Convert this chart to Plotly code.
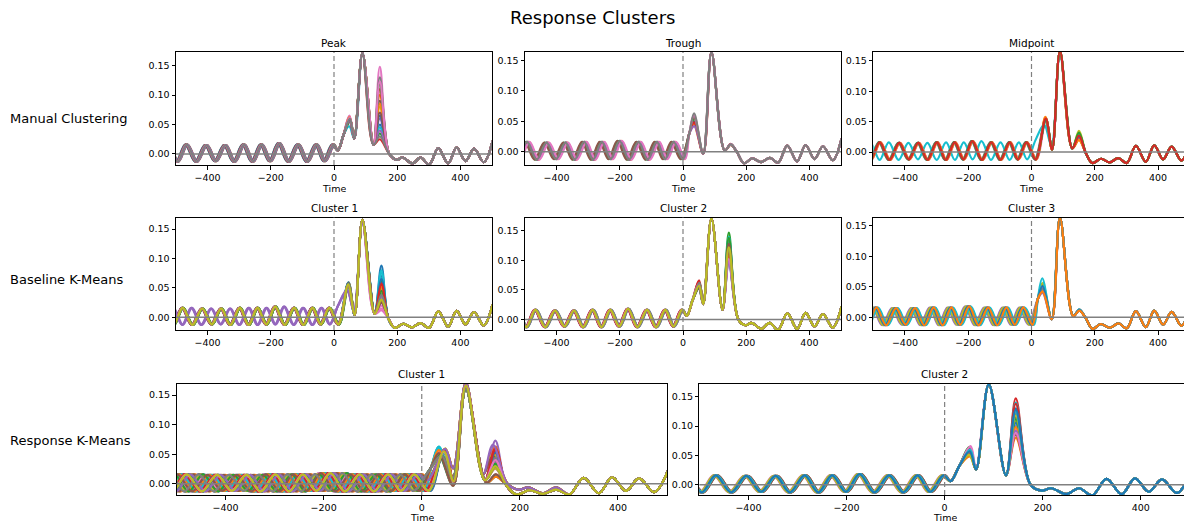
import plotly.graph_objects as go

# ---------------------------------------------------------------- data
# Pre-stimulus oscillation: extrema times (ms) and amplitudes for the
# reference phase (stimulus arriving on a peak).
OSC_PEAK_T = [-525, -467, -405, -345, -286, -230, -174, -114, -56, -3]
OSC_PEAK_V = [0.015, 0.016, 0.015, 0.015, 0.016, 0.016, 0.018, 0.016, 0.016, 0.016]
OSC_TROUGH_T = [-554, -496, -436, -375, -316, -258, -202, -144, -85, -30, 26]
OSC_TROUGH_V = [-0.013, -0.013, -0.013, -0.012, -0.013, -0.013, -0.012, -0.013, -0.013, -0.012, -0.012]

# Evoked response key points for each stimulus-phase type
# P: stimulus on peak, T: on trough, M: on falling midpoint, A: rising midpoint
P_RESP_T = [12, 30, 64, 90, 125, 175, 198, 217, 248, 274]
P_RESP_V = [0.006, 0.032, 0.026, 0.171, 0.016, 0.0, -0.010, -0.006, -0.016, -0.006]
T_RESP_T = [20, 64, 90, 132, 170, 193, 219, 247, 275]
T_RESP_V = [0.030, -0.003, 0.163, 0.002, 0.0, -0.019, -0.011, -0.017, -0.010]
M_RESP_T = [65, 90, 129, 172, 192, 220, 247, 274]
M_RESP_V = [0.004, 0.166, 0.006, -0.002, -0.018, -0.011, -0.017, -0.010]
A_RESP_T = [13, 63, 90, 129, 172, 192, 220, 247, 274]
A_RESP_V = [0.020, 0.010, 0.160, 0.006, -0.002, -0.018, -0.011, -0.017, -0.010]
P3_TIME = {"P": 145, "T": 151, "M": 150, "A": 150}
PRE_CUTOFF = {"P": 6, "T": 14, "M": 25, "A": 7}

# Late oscillation shared by all trials
TAIL_T = [301, 330, 361, 388, 416, 443, 474, 502]
TAIL_V = [-0.018, 0.010, -0.016, 0.011, -0.012, 0.009, -0.014, 0.022]

# Manual clustering: Peak
peak_kind = ["P"] * 18
peak_shift = [0, 3, -3, 1, -2, 4, 0, -4, 2, 1, -3, 0, 2, -1, 3, -2, 0, 1]
peak_p1_t = [50, 49, 51, 50, 48, 50, 49, 51, 50, 48, 50, 49, 51, 50, 48, 49, 50, 50]
peak_p1_v = [0.058, 0.062, 0.055, 0.060, 0.064, 0.057, 0.065, 0.059, 0.061, 0.047,
             0.060, 0.063, 0.058, 0.061, 0.057, 0.059, 0.062, 0.060]
peak_p3_v = [0.050, 0.100, 0.035, 0.110, 0.060, 0.090, 0.148, 0.130, 0.080, 0.045,
             0.065, 0.085, 0.118, 0.025, 0.040, 0.070, 0.123, 0.030]

# Manual clustering: Trough
trough_kind = ["T"] * 8
trough_shift = [-27, -21, -32, -25, -24, -34, -19, -27]
trough_p1_t = [35, 34, 36, 35, 36, 34, 35, 35]
trough_p1_v = [0.050, 0.045, 0.055, 0.048, 0.042, 0.058, 0.060, 0.063]
trough_p3_v = [0.012, 0.011, 0.012, 0.013, 0.012, 0.011, 0.012, 0.012]

# Manual clustering: Midpoint
mid_kind = ["M", "M", "M", "M", "M", "M", "M", "M", "M", "A", "M", "M", "M", "M"]
mid_shift = [-13, -11, -15, -12, -14, -13, -10, -16, -12, 16, -13, -11, -14, -13]
mid_p1_t = [45, 44, 46, 45, 44, 45, 46, 44, 45, 40, 45, 44, 46, 45]
mid_p1_v = [0.054, 0.058, 0.052, 0.055, 0.053, 0.056, 0.054, 0.052, 0.055, 0.045,
            0.053, 0.057, 0.054, 0.055]
mid_p3_v = [0.025, 0.020, 0.030, 0.028, 0.024, 0.022, 0.030, 0.022, 0.035, 0.030,
            0.026, 0.020, 0.032, 0.027]

# Baseline K-Means: Cluster 1
b1_kind = ["M", "M", "M", "M", "A", "M", "M", "M", "M", "M",
           "M", "M", "M", "M", "A", "M", "M", "M", "M", "M",
           "M", "M", "M", "M", "A", "M", "M", "M", "M"]
b1_shift = [-12, -13, -10, -11, 16, -14, -14, -12, -12, -11,
            -13, -13, -10, -12, 18, -15, -12, -12, -11, -13,
            -14, -11, -10, -14, 15, -12, -13, -11, -12]
b1_p1_t = [46, 45, 47, 45, 42, 46, 46, 45, 45, 46,
           45, 45, 44, 46, 42, 46, 45, 45, 46, 44,
           45, 45, 46, 46, 41, 45, 45, 46, 45]
b1_p1_v = [0.058, 0.055, 0.057, 0.056, 0.045, 0.058, 0.054, 0.056, 0.055, 0.060,
           0.057, 0.056, 0.054, 0.059, 0.046, 0.053, 0.057, 0.055, 0.058, 0.056,
           0.058, 0.055, 0.057, 0.054, 0.047, 0.056, 0.055, 0.057, 0.056]
b1_p3_v = [0.088, 0.045, 0.062, 0.055, 0.030, 0.040, 0.020, 0.035, 0.028, 0.080,
           0.070, 0.050, 0.060, 0.058, 0.025, 0.030, 0.015, 0.040, 0.048, 0.075,
           0.065, 0.052, 0.045, 0.057, 0.035, 0.025, 0.012, 0.038, 0.030]

# Baseline K-Means: Cluster 2
b2_kind = ["P"] * 19
b2_shift = [0, 2, -2, 3, -3, 0, 1, -1, 0, 3, -2, 1, 0, -3, 2, 0, -1, 2, 0]
b2_p1_t = [51, 50, 52, 51, 50, 52, 51, 50, 52, 51, 50, 52, 51, 50, 52, 51, 50, 52, 51]
b2_p1_v = [0.058, 0.055, 0.062, 0.066, 0.052, 0.060, 0.057, 0.054, 0.059, 0.063,
           0.056, 0.061, 0.053, 0.065, 0.058, 0.055, 0.060, 0.062, 0.057]
b2_p3_v = [0.125, 0.110, 0.147, 0.135, 0.095, 0.115, 0.105, 0.130, 0.118, 0.140,
           0.100, 0.108, 0.138, 0.112, 0.097, 0.128, 0.102, 0.120, 0.122]

# Baseline K-Means: Cluster 3
b3_kind = ["T"] * 12
b3_shift = [-27, -22, -31, -25, -36, -20, -28, -24, -33, -18, -27, -23]
b3_p1_t = [35, 35, 34, 36, 35, 34, 35, 36, 35, 34, 35, 35]
b3_p1_v = [0.050, 0.044, 0.052, 0.050, 0.040, 0.055, 0.049, 0.047, 0.056, 0.064, 0.051, 0.042]
b3_p3_v = [0.012, 0.011, 0.013, 0.012, 0.012, 0.011, 0.013, 0.012, 0.012, 0.013, 0.012, 0.011]

# Response K-Means: Cluster 1
r1_kind = ["T", "M", "A", "M", "T", "P", "M", "A", "T", "T",
           "M", "A", "M", "P", "T", "M", "A", "T", "M", "T",
           "A", "P", "M", "T", "M", "A", "T", "M", "P", "T",
           "A", "M", "T", "M", "A", "P", "T", "M", "A", "T",
           "M", "T", "A", "M", "P", "T", "M", "A", "M"]
r1_shift = [-27, -10, 14, -16, -33, 3, -13, 20, -22, -30,
            -8, 17, -18, -4, -25, -12, 11, -35, -15, -20,
            22, 5, -11, -29, -17, 15, -24, -9, -2, -31,
            13, -14, -26, -19, 19, 1, -36, -12, 16, -23,
            -10, -28, 21, -16, -5, -32, -13, 12, -12]
r1_p1_t = [35, 45, 40, 46, 34, 48, 45, 41, 35, 35,
           44, 40, 45, 48, 36, 45, 39, 35, 46, 34,
           40, 49, 45, 35, 46, 41, 35, 44, 48, 35,
           40, 45, 34, 46, 40, 48, 36, 45, 41, 35,
           45, 35, 40, 46, 48, 35, 45, 40, 45]
r1_p1_v = [0.055, 0.056, 0.048, 0.057, 0.050, 0.058, 0.054, 0.046, 0.058, 0.063,
           0.055, 0.047, 0.056, 0.059, 0.052, 0.054, 0.048, 0.060, 0.055, 0.062,
           0.047, 0.058, 0.053, 0.056, 0.057, 0.049, 0.054, 0.055, 0.060, 0.063,
           0.046, 0.056, 0.051, 0.058, 0.048, 0.057, 0.053, 0.054, 0.047, 0.061,
           0.055, 0.057, 0.049, 0.056, 0.059, 0.052, 0.054, 0.048, 0.055]
r1_p3_v = [0.015, 0.060, 0.035, 0.063, 0.014, 0.045, 0.040, 0.028, 0.016, 0.013,
           0.055, 0.030, 0.042, 0.058, 0.015, 0.035, 0.025, 0.012, 0.048, 0.014,
           0.032, 0.052, 0.038, 0.013, 0.073, 0.027, 0.016, 0.046, 0.050, 0.015,
           0.030, 0.062, 0.013, 0.060, 0.036, 0.047, 0.014, 0.044, 0.026, 0.015,
           0.053, 0.012, 0.034, 0.058, 0.066, 0.016, 0.040, 0.029, 0.030]

# Response K-Means: Cluster 2
r2_kind = ["P"] * 21
r2_shift = [0, 3, -1, 1, -3, 4, -4, 0, 2, -1, 1, 0, -2, 3, -1, 4, 0, 1, -3, 2, 0]
r2_p1_t = [51, 52, 50, 51, 52, 50, 53, 51, 52, 50, 51, 52, 50, 53, 51, 50, 52, 51, 50, 52, 51]
r2_p1_v = [0.058, 0.050, 0.063, 0.055, 0.052, 0.060, 0.066, 0.056, 0.054, 0.059, 0.057,
           0.048, 0.064, 0.053, 0.058, 0.061, 0.065, 0.055, 0.051, 0.060, 0.057]
r2_p3_v = [0.130, 0.080, 0.120, 0.147, 0.100, 0.115, 0.095, 0.108, 0.110, 0.140, 0.105,
           0.098, 0.112, 0.138, 0.092, 0.085, 0.088, 0.122, 0.118, 0.125, 0.128]

# Axis ticks
X_TICKS = [-400, -200, 0, 200, 400]
X_TICK_TEXT = ["\u2212400", "\u2212200", "0", "200", "400"]
Y_TICKS = [0.0, 0.05, 0.10, 0.15]
Y_TICK_TEXT = ["0.00", "0.05", "0.10", "0.15"]

TAB10 = ["#1f77b4", "#ff7f0e", "#2ca02c", "#d62728", "#9467bd",
         "#8c564b", "#e377c2", "#7f7f7f", "#bcbd22", "#17becf"]

RESP = {"P": (P_RESP_T, P_RESP_V), "T": (T_RESP_T, T_RESP_V),
        "M": (M_RESP_T, M_RESP_V), "A": (A_RESP_T, A_RESP_V)}


def trial_points(kind, shift, p1_t, p1_v, p3_v):
    cut = PRE_CUTOFF[kind]
    pts = [(t + shift, v) for t, v in zip(OSC_PEAK_T, OSC_PEAK_V) if t + shift < cut]
    pts += [(t + shift, v) for t, v in zip(OSC_TROUGH_T, OSC_TROUGH_V) if t + shift < cut]
    rt, rv = RESP[kind]
    pts += list(zip(rt, rv))
    pts += [(p1_t, p1_v), (P3_TIME[kind], p3_v)]
    pts += list(zip(TAIL_T, TAIL_V))
    pts.sort()
    return [p[0] for p in pts], [p[1] for p in pts]


# ---------------------------------------------------------------- layout
W, H = 1184, 522
FONT = "DejaVu Sans"

panels = [
    dict(title="Peak", x0=176, x1=492, top=52, bot=165, xr=[-500, 500], yr=[-0.0187, 0.173],
         xlabel=22.5, clip=False,
         data=(peak_kind, peak_shift, peak_p1_t, peak_p1_v, peak_p3_v)),
    dict(title="Trough", x0=525, x1=841, top=52, bot=165, xr=[-500, 500], yr=[-0.0218, 0.1636],
         xlabel=22.5, clip=False,
         data=(trough_kind, trough_shift, trough_p1_t, trough_p1_v, trough_p3_v)),
    dict(title="Midpoint", x0=873.3, x1=1184, top=52, bot=165, xr=[-500, 482], yr=[-0.0213, 0.1645],
         xlabel=22.5, clip=True,
         data=(mid_kind, mid_shift, mid_p1_t, mid_p1_v, mid_p3_v)),
    dict(title="Cluster 1", x0=176, x1=492, top=217.5, bot=330, xr=[-500, 500], yr=[-0.0216, 0.1698],
         xlabel=None, clip=False,
         data=(b1_kind, b1_shift, b1_p1_t, b1_p1_v, b1_p3_v)),
    dict(title="Cluster 2", x0=525, x1=841, top=217.5, bot=330, xr=[-500, 500], yr=[-0.018, 0.1726],
         xlabel=None, clip=False,
         data=(b2_kind, b2_shift, b2_p1_t, b2_p1_v, b2_p3_v)),
    dict(title="Cluster 3", x0=873.3, x1=1184, top=217.5, bot=330, xr=[-500, 482], yr=[-0.0208, 0.1636],
         xlabel=None, clip=True,
         data=(b3_kind, b3_shift, b3_p1_t, b3_p1_v, b3_p3_v)),
    dict(title="Cluster 1", x0=176.5, x1=667, top=383.5, bot=495, xr=[-500, 500], yr=[-0.019, 0.1697],
         xlabel=22, clip=False,
         data=(r1_kind, r1_shift, r1_p1_t, r1_p1_v, r1_p3_v)),
    dict(title="Cluster 2", x0=699.4, x1=1184, top=383.5, bot=495, xr=[-500, 488], yr=[-0.0175, 0.1725],
         xlabel=22, clip=True,
         data=(r2_kind, r2_shift, r2_p1_t, r2_p1_v, r2_p3_v)),
]

fig = go.Figure()
layout = dict(
    width=W, height=H, margin=dict(l=0, r=0, t=0, b=0),
    paper_bgcolor="white", plot_bgcolor="white",
    font=dict(family=FONT, color="black", size=10),
    showlegend=False,
)
annotations = []
shapes = []

for i, p in enumerate(panels, start=1):
    xa = "x" if i == 1 else f"x{i}"
    ya = "y" if i == 1 else f"y{i}"
    kinds, shifts, p1t, p1v, p3v = p["data"]
    for j in range(len(kinds)):
        xs, ys = trial_points(kinds[j], shifts[j], p1t[j], p1v[j], p3v[j])
        fig.add_trace(go.Scatter(
            x=xs, y=ys, mode="lines", xaxis=xa, yaxis=ya,
            line=dict(color=TAB10[j % 10], width=2.2, shape="spline", smoothing=1.0),
            hoverinfo="skip", showlegend=False))

    xdom = [p["x0"] / W, min(p["x1"] / W, 1.0)]
    ydom = [1 - p["bot"] / H, 1 - p["top"] / H]
    axis_common = dict(showgrid=False, zeroline=False, showline=True, linecolor="black",
                       linewidth=1, ticks="outside", ticklen=3.5, tickwidth=1,
                       tickcolor="black", tickfont=dict(family=FONT, size=9.5, color="black"))
    layout["xaxis" if i == 1 else f"xaxis{i}"] = dict(
        axis_common, domain=xdom, range=p["xr"], anchor=ya, mirror=True,
        tickmode="array", tickvals=X_TICKS, ticktext=X_TICK_TEXT)
    layout["yaxis" if i == 1 else f"yaxis{i}"] = dict(
        axis_common, domain=ydom, range=p["yr"], anchor=xa, mirror=not p["clip"],
        tickmode="array", tickvals=Y_TICKS, ticktext=Y_TICK_TEXT)

    # zero line and stimulus onset
    shapes.append(dict(type="line", xref=f"{xa} domain", yref=ya, x0=0, x1=1, y0=0, y1=0,
                       line=dict(color="#808080", width=1.5), layer="above"))
    shapes.append(dict(type="line", xref=xa, yref=f"{ya} domain", x0=0, x1=0, y0=0, y1=1,
                       line=dict(color="#808080", width=1.2, dash="5px,3px"), layer="above"))

    # centre of the full (uncropped) axes box
    full_w = (p["x1"] - p["x0"]) * 1000 / (p["xr"][1] - p["xr"][0])
    xc = p["x0"] + full_w / 2
    annotations.append(dict(text=p["title"], x=xc / W, y=1 - (p["top"] - 9.5) / H,
                            xref="paper", yref="paper", xanchor="center", yanchor="middle",
                            showarrow=False, font=dict(family=FONT, size=10.5, color="black")))
    if p["xlabel"] is not None:
        annotations.append(dict(text="Time", x=xc / W, y=1 - (p["bot"] + p["xlabel"]) / H,
                                xref="paper", yref="paper", xanchor="center", yanchor="middle",
                                height=10, showarrow=False,
                                font=dict(family=FONT, size=9.5, color="black")))

# row labels
for label, yc in [("Manual Clustering", 118), ("Baseline K-Means", 279), ("Response K-Means", 440)]:
    annotations.append(dict(text=label, x=8 / W, y=1 - yc / H, xref="paper", yref="paper",
                            xanchor="left", yanchor="middle", showarrow=False,
                            font=dict(family=FONT, size=13, color="black")))

annotations.append(dict(text="Response Clusters", x=0.5, y=1 - 18 / H, xref="paper", yref="paper",
                        xanchor="center", yanchor="middle", showarrow=False,
                        font=dict(family=FONT, size=18, color="black")))

layout["annotations"] = annotations
layout["shapes"] = shapes
fig.update_layout(**layout)
fig.write_html("out.html")
